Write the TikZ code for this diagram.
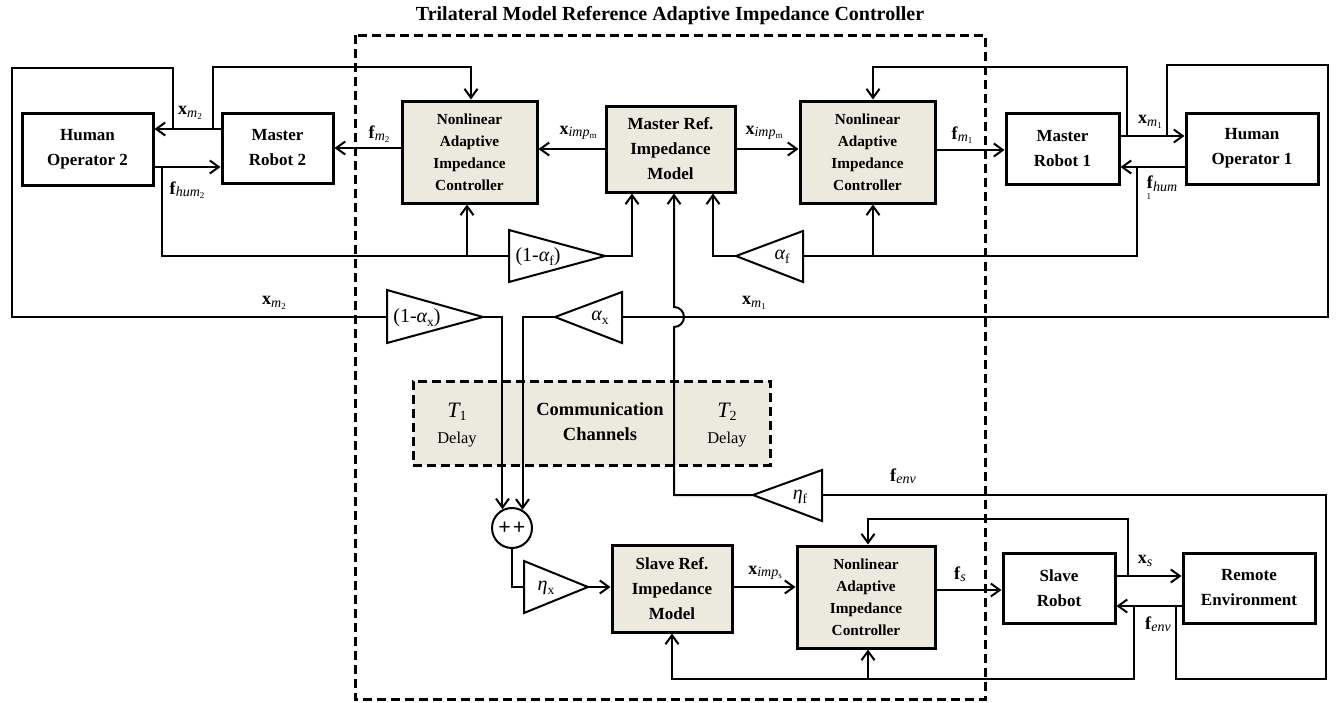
\documentclass[tikz,border=0pt]{standalone}
\usepackage{fontspec}
\setmainfont{Liberation Serif}
\usetikzlibrary{arrows.meta,calc}
\definecolor{boxfill}{RGB}{236,233,222}
\newcommand\vl[3]{\textbf{#1}\raisebox{-0.3ex}{\fontsize{14}{14}\selectfont\itshape #2\raisebox{-0.3ex}{\fontsize{9}{9}\selectfont\upshape #3}}}
\newcommand\gsub[2]{{\itshape #1}\raisebox{-0.4ex}{\fontsize{13.5}{13.5}\selectfont #2}}
\tikzset{
  conn/.style={line width=2pt,line join=miter},
  arr/.style={conn,-{Straight Barb[length=9pt,width=13pt,line width=2pt]}},
  plainbox/.style={draw,line width=3pt,align=center,inner sep=0pt,
    font=\bfseries\fontsize{17}{25}\selectfont},
  ctrlbox/.style={plainbox,fill=boxfill,minimum width=135pt,minimum height=102pt,
    font=\bfseries\fontsize{15.3}{22}\selectfont},
  ampl/.style={draw,line width=2pt,line join=miter},
  lab/.style={inner sep=0pt,font=\fontsize{18}{18}\selectfont},
  glab/.style={inner sep=0pt,font=\fontsize{20}{20}\selectfont},
  dashbox/.style={draw,line width=3pt,dash pattern=on 9pt off 5pt},
}
\begin{document}
\begin{tikzpicture}[x=1pt,y=-1pt]
\useasboundingbox (0,0) rectangle (1339,702);
% title and outer frame
\node[inner sep=0pt,font=\bfseries\fontsize{20}{20}\selectfont] (title) at (670,16) {Trilateral Model Reference Adaptive Impedance Controller};
\draw[dashbox] (355,35) rectangle (985,699);
% communication channels
\node[dashbox,fill=boxfill,minimum width=357pt,minimum height=84pt,inner sep=0pt] (comm) at (591.5,423) {};
\node[inner sep=0pt,font=\itshape\fontsize{22}{22}\selectfont] (t1) at (457,412) {T\raisebox{-0.3ex}{\fontsize{14}{14}\selectfont\upshape 1}};
\node[inner sep=0pt,font=\fontsize{16.5}{16.5}\selectfont] (d1) at (457,440) {Delay};
\node[inner sep=0pt,align=center,font=\bfseries\fontsize{18.5}{25}\selectfont] (cc) at (600,422) {Communication\\Channels};
\node[inner sep=0pt,font=\itshape\fontsize{22}{22}\selectfont] (t2) at (727,412) {T\raisebox{-0.3ex}{\fontsize{14}{14}\selectfont\upshape 2}};
\node[inner sep=0pt,font=\fontsize{16.5}{16.5}\selectfont] (d2) at (727,440) {Delay};
% blocks
\node[plainbox,minimum width=131pt,minimum height=72pt] (ho2) at (87.5,149) {Human\\Operator 2};
\node[plainbox,minimum width=111pt,minimum height=70pt] (mr2) at (277.5,148) {Master\\Robot 2};
\node[ctrlbox] (naic2) at (469.5,152) {Nonlinear\\Adaptive\\Impedance\\Controller};
\node[plainbox,fill=boxfill,minimum width=129pt,minimum height=86pt] (mrim) at (670.5,149) {Master Ref.\\Impedance\\Model};
\node[ctrlbox] (naic1) at (867.5,152) {Nonlinear\\Adaptive\\Impedance\\Controller};
\node[plainbox,minimum width=113pt,minimum height=71pt] (mr1) at (1062.5,148.5) {Master\\Robot 1};
\node[plainbox,minimum width=132pt,minimum height=71pt] (ho1) at (1252,148.5) {Human\\Operator 1};
\node[plainbox,fill=boxfill,minimum width=120pt,minimum height=87pt] (srim) at (672,588.5) {Slave Ref.\\Impedance\\Model};
\node[ctrlbox,minimum width=138pt] (naic3) at (866,597) {Nonlinear\\Adaptive\\Impedance\\Controller};
\node[plainbox,minimum width=112pt,minimum height=70pt] (sr) at (1059,588) {Slave\\Robot};
\node[plainbox,minimum width=132pt,minimum height=70pt] (re) at (1249,588) {Remote\\Environment};
\node[draw,circle,line width=2pt,minimum size=40pt,inner sep=0pt,font=\bfseries\fontsize{22}{22}\selectfont] (sum) at (512,528) {+\kern2pt+};
% amplifiers (triangles)
\coordinate (afL) at (509,256); \coordinate (afT) at (605,256);
\draw[ampl] (509,230) -- (afT) -- (509,282) -- cycle;
\node[glab] (afl) at (538,257) {(1-\gsub{α}{f})};
\coordinate (bfR) at (803,256); \coordinate (bfT) at (736,256);
\draw[ampl] (803,231) -- (bfT) -- (803,282) -- cycle;
\node[glab] (bfl) at (782,257) {\gsub{α}{f}};
\coordinate (axL) at (387,317); \coordinate (axT) at (483,317);
\draw[ampl] (387,290) -- (axT) -- (387,343) -- cycle;
\node[glab] (axl) at (417,318) {(1-\gsub{α}{x})};
\coordinate (bxR) at (622,317); \coordinate (bxT) at (555,317);
\draw[ampl] (622,292) -- (bxT) -- (622,343) -- cycle;
\node[glab] (bxl) at (600,318) {\gsub{α}{x}};
\coordinate (exL) at (524,587); \coordinate (exT) at (588,587);
\draw[ampl] (524,561) -- (exT) -- (524,613) -- cycle;
\node[glab] (exl) at (546,588) {\gsub{η}{x}};
\coordinate (efR) at (822,495); \coordinate (efT) at (753,495);
\draw[ampl] (822,470) -- (efT) -- (822,521) -- cycle;
\node[glab] (efl) at (800,497) {\gsub{η}{f}};
% ---- master side 2
\draw[arr] (mr2.west|-0,129) -- (ho2.east|-0,129);
\draw[conn] (173,129) -- (173,68) -- (12,68) -- (12,317) -- (axL);
\draw[arr] (213,129) -- (213,67) -- (471,67) -- (naic2.north-|471,0);
\draw[arr] (ho2.east|-0,167) -- (mr2.west|-0,167);
\draw[conn] (162,167) -- (162,256) -- (afL);
\draw[arr] (467,256) -- (naic2.south-|467,0);
\draw[arr] (naic2.west|-0,148) -- (mr2.east|-0,148);
\draw[arr] (mrim.west|-0,149) -- (naic2.east|-0,149);
\draw[arr] (mrim.east|-0,149) -- (naic1.west|-0,149);
\draw[arr] (afT) -- (632,256) -- (mrim.south-|632,0);
\draw[arr] (bfT) -- (713,256) -- (mrim.south-|713,0);
% ---- master side 1
\draw[conn] (bfR) -- (1137,256) -- (1137,167);
\draw[arr] (873,256) -- (naic1.south-|873,0);
\draw[arr] (ho1.west|-0,167) -- (mr1.east|-0,167);
\draw[arr] (naic1.east|-0,150) -- (mr1.west|-0,150);
\draw[arr] (mr1.east|-0,136) -- (ho1.west|-0,136);
\draw[arr] (1127,136) -- (1127,67) -- (873,67) -- (naic1.north-|873,0);
\draw[conn] (1167,136) -- (1167,65) -- (1328,65) -- (1328,317) -- (bxR);
% ---- to summing junction
\draw[arr] (axT) -| (sum.117);
\draw[arr] (bxT) -| (sum.60);
\draw[conn] (sum.south) |- (exL);
\draw[arr] (exT) -- (srim.west|-exT);
\draw[arr] (srim.east|-0,587) -- (naic3.west|-0,587);
\draw[arr] (naic3.east|-0,590) -- (sr.west|-0,590);
% ---- slave side
\draw[arr] (sr.east|-0,576) -- (re.west|-0,576);
\draw[arr] (1128,576) -- (1128,519) -- (868,519) -- (naic3.north-|868,0);
\draw[arr] (re.west|-0,606) -- (sr.east|-0,606);
\draw[arr] (1134,606) -- (1134,679) -- (672,679) -- (srim.south-|672,0);
\draw[arr] (868,679) -- (naic3.south-|868,0);
\draw[conn] (1176,606) -- (1176,679) -- (1326,679) -- (1326,495) -- (efR);
\draw[arr] (efT) -- (674,495) -- (674,327) arc[start angle=90,end angle=-90,radius=10] -- (mrim.south-|674,0);
% ---- signal labels
\node[lab] (lxm2a) at (190,113) {\vl{x}{m}{2}};
\node[lab] (lfh2) at (187,190) {\vl{f}{hum}{2}};
\node[lab] (lfm2) at (379,134) {\vl{f}{m}{2}};
\node[lab] (lxi1) at (578,133) {\vl{x}{imp}{m}};
\node[lab] (lxi2) at (764,133) {\vl{x}{imp}{m}};
\node[lab] (lfm1) at (962,135) {\vl{f}{m}{1}};
\node[lab] (lxm1a) at (1150,122) {\vl{x}{m}{1}};
\node[lab] (lfh1) at (1162,188) {\textbf{f}\llap{\raisebox{-1.3ex}{\fontsize{9}{9}\selectfont 1}\kern2pt}\raisebox{-0.3ex}{\fontsize{14}{14}\selectfont\itshape hum}};
\node[lab] (lxm2b) at (274,303) {\vl{x}{m}{2}};
\node[lab] (lxm1b) at (754,303) {\vl{x}{m}{1}};
\node[lab] (lfe1) at (903,477) {\vl{f}{env}{}};
\node[lab] (lxis) at (765,573) {\vl{x}{imp}{s}};
\node[lab] (lfs) at (960,575) {\vl{f}{s}{}};
\node[lab] (lxs) at (1145,562) {\vl{x}{s}{}};
\node[lab] (lfe2) at (1158,625) {\vl{f}{env}{}};
\end{tikzpicture}
\end{document}
